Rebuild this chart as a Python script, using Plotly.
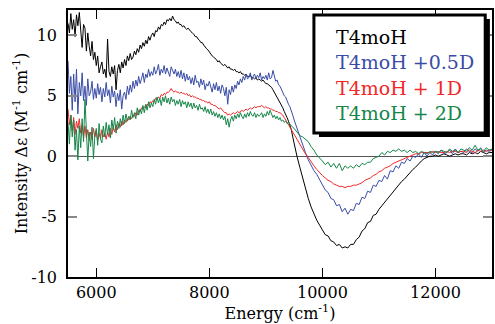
import plotly.graph_objects as go

# energy grid (cm^-1): 25 cm^-1 steps below 9500, 50 cm^-1 steps above
energy = list(range(5500, 9500, 25)) + list(range(9500, 13001, 50))

t4moh = [
    11.0, 10.2, 11.8, 10.5,  11.3, 9.9, 11.7, 10.8,  11.9, 10.1, 9.0, 10.9,
    10.6, 8.7, 10.2, 9.1,  8.3, 9.5, 8.0, 8.6,  7.5, 8.3, 6.9, 7.4,
    7.8, 6.8, 7.2, 6.5,  9.7, 7.0, 6.6, 7.4,  6.8, 7.5, 5.5, 7.1,
    7.6, 6.9, 7.8, 7.3,  8.0, 7.5, 8.3, 7.9,  8.5, 8.0, 8.2, 8.7,
    8.4, 8.9, 8.6, 9.2,  8.9, 9.4, 9.1, 9.6,  9.3, 9.9, 9.6, 10.0,
    10.2, 9.9, 10.4, 10.3,  10.7, 10.5, 10.9, 10.8,  11.1, 10.9, 11.3, 11.2,
    11.4, 11.2, 11.6, 11.3,  11.2, 11.0, 11.1, 10.9,  10.9, 10.7, 10.8, 10.6,
    10.5, 10.6, 10.4, 10.3,  10.2, 10.1, 9.9, 9.9,  9.7, 9.6, 9.4, 9.4,
    9.2, 9.0, 8.9, 8.8,  8.6, 8.5, 8.3, 8.2,  8.1, 8.0, 7.8, 7.9,
    7.7, 7.6, 7.5, 7.6,  7.4, 7.3, 7.4, 7.2,  7.2, 7.1, 7.2, 7.0,
    7.0, 6.9, 7.0, 6.8,  6.8, 6.7, 6.8, 6.6,  6.6, 6.7, 6.5, 6.5,
    6.4, 6.5, 6.3, 6.4,  6.3, 6.2, 6.3, 6.1,  6.0, 6.0, 5.9, 5.8,
    5.7, 5.5, 5.3, 5.1,  4.9, 4.7, 4.5, 4.2,  4.0, 3.7, 3.5, 3.2,
    2.9, 2.6, 2.2, 1.6,
    1.0, 0.0, -0.9, -1.8, -2.7, -3.5, -4.2, -4.8, -5.3, -5.7,
    -6.1, -6.5, -6.6, -7.0, -7.1, -7.4, -7.3, -7.6, -7.5, -7.6,
    -7.3, -7.3, -6.9, -6.7, -6.2, -6.0, -5.5, -5.4, -4.9, -4.8,
    -4.4, -4.1, -3.8, -3.5, -3.2, -2.9, -2.6, -2.4, -2.1, -1.9,
    -1.6, -1.4, -1.1, -0.9, -0.6, -0.4, -0.2, -0.1, 0.0, 0.0,
    0.1, 0.0, 0.1, 0.2, 0.1, 0.0, 0.1, 0.2, 0.1, 0.2,
    0.2, 0.1, 0.3, 0.2, 0.3, 0.2, 0.4, 0.3, 0.2, 0.3,
    0.3,
]

t4moh_05d = [
    7.9, 5.2, 6.6, 3.8,  6.8, 4.5, 7.2, 3.5,  6.1, 5.0, 6.9, 4.6,
    5.8, 4.2, 6.4, 5.0,  5.3, 6.2, 4.7, 5.6,  4.8, 6.0, 5.1, 5.7,
    4.5, 5.6, 4.9, 6.1,  5.0, 5.5, 4.4, 5.8,  4.9, 5.4, 4.1, 5.2,
    4.6, 5.5, 3.9, 5.0,  5.3, 4.7, 5.8, 5.1,  5.9, 5.3, 6.2, 5.6,
    6.3, 5.8, 6.6, 6.0,  6.4, 6.9, 6.1, 6.8,  6.5, 7.2, 6.6, 7.0,
    6.7, 7.4, 6.8, 7.1,  7.6, 6.7, 7.2, 6.9,  7.5, 6.8, 7.3, 7.0,
    6.6, 7.4, 7.0, 6.8,  7.2, 6.6, 7.0, 6.5,  7.1, 6.4, 6.9, 6.2,
    6.8, 6.3, 6.6, 6.0,  6.5, 5.9, 6.7, 6.1,  6.2, 5.7, 6.4, 5.9,
    6.3, 5.5, 6.0, 5.8,  6.2, 5.6, 5.3, 6.0,  5.5, 6.1, 5.4, 5.8,
    5.2, 5.9, 5.6, 5.0,  5.7, 4.3, 5.5, 5.1,  5.8, 5.3, 5.9, 5.6,
    6.2, 5.9, 6.4, 6.1,  6.6, 6.3, 6.8, 6.4,  6.5, 6.9, 6.3, 6.6,
    6.8, 6.4, 6.7, 6.5,  6.9, 6.3, 6.6, 6.4,  6.7, 6.3, 6.9, 6.4,
    6.5, 7.1, 6.6, 6.2,  6.3, 5.9, 5.8, 5.5,  5.3, 5.0, 4.9, 4.5,
    4.3, 4.1, 3.8, 3.4,
    3.0, 2.3, 1.6, 0.9, 0.3, -0.3, -0.8, -1.2, -1.5, -1.9,
    -2.3, -2.8, -3.0, -3.5, -3.6, -4.1, -4.0, -4.6, -4.3, -4.8,
    -4.4, -4.5, -3.9, -4.0, -3.4, -3.5, -2.9, -3.0, -2.4, -2.5,
    -2.0, -2.1, -1.6, -1.9, -1.2, -1.3, -0.8, -1.0, -0.5, -0.6,
    -0.2, -0.4, 0.0, -0.1, 0.2, -0.1, 0.3, 0.0, 0.3, 0.1,
    0.4, 0.2, 0.5, 0.2, 0.3, 0.5, 0.2, 0.6, 0.3, 0.4,
    0.3, 0.6, 0.4, 0.3, 0.6, 0.4, 0.7, 0.3, 0.5, 0.4,
    0.5,
]

t4moh_1d = [
    3.9, 2.6, 3.4, 2.1,  3.2, 1.8, 2.9, 2.3,  3.1, 1.9, 2.6, 1.6,
    2.5, 1.5, 2.2, 1.3,  2.0, 1.4, 2.3, 1.6,  2.1, 1.3, 1.9, 1.5,
    2.2, 1.6, 1.9, 1.4,  2.0, 1.6, 2.3, 1.8,  2.4, 2.0, 2.6, 2.2,
    2.7, 2.4, 2.9, 2.6,  3.0, 2.8, 3.1, 3.0,  3.3, 3.1, 3.4, 3.3,
    3.6, 3.4, 3.8, 3.7,  4.0, 3.9, 4.1, 4.0,  4.3, 4.2, 4.5, 4.4,
    4.6, 4.5, 4.8, 4.7,  4.9, 4.8, 5.1, 5.0,  5.2, 5.1, 5.3, 5.3,
    5.4, 5.6, 5.4, 5.3,  5.4, 5.3, 5.3, 5.2,  5.3, 5.2, 5.2, 5.1,
    5.2, 5.0, 5.1, 4.9,  5.0, 4.9, 4.9, 4.8,  4.8, 4.7, 4.7, 4.6,
    4.6, 4.5, 4.5, 4.4,  4.5, 4.3, 4.3, 4.2,  4.2, 4.1, 4.0, 3.9,
    4.0, 3.8, 3.7, 3.6,  3.6, 3.4, 3.5, 3.4,  3.5, 3.6, 3.5, 3.6,
    3.7, 3.6, 3.7, 3.8,  3.7, 3.8, 3.9, 3.8,  3.9, 4.0, 3.9, 4.0,
    4.1, 4.0, 4.1, 4.1,  4.1, 4.2, 4.1, 4.0,  4.1, 4.0, 4.0, 3.9,
    3.9, 3.8, 3.8, 3.7,  3.7, 3.6, 3.6, 3.5,  3.4, 3.2, 3.0, 2.8,
    2.5, 2.3, 2.1, 1.9,
    1.7, 1.3, 0.9, 0.6, 0.2, -0.1, -0.5, -0.8, -1.1, -1.4,
    -1.6, -1.8, -2.0, -2.1, -2.3, -2.4, -2.5, -2.5, -2.6, -2.5,
    -2.5, -2.4, -2.4, -2.3, -2.2, -2.0, -1.9, -1.8, -1.6, -1.5,
    -1.3, -1.2, -1.0, -0.9, -0.8, -0.6, -0.5, -0.4, -0.3, -0.2,
    -0.1, 0.0, 0.1, 0.2, 0.2, 0.3, 0.3, 0.3, 0.3, 0.4,
    0.3, 0.4, 0.3, 0.3, 0.4, 0.3, 0.4, 0.4, 0.3, 0.4,
    0.4, 0.3, 0.5, 0.4, 0.3, 0.5, 0.4, 0.5, 0.4, 0.5,
    0.5,
]

t4moh_2d = [
    2.8, 1.0, 3.4, 1.6,  3.0, 0.5, 2.2, -0.3,  2.5, 0.7, 3.1, 1.2,
    4.7, 1.5, -0.4, 2.0,  0.8, 2.4, -0.2, 1.7,  2.3, 0.9, 2.7, 1.4,
    1.1, 2.5, 1.6, 2.8,  1.8, 2.6, 1.5, 3.0,  2.2, 3.2, 1.9, 2.9,
    2.3, 3.1, 2.5, 3.4,  2.7, 3.5, 2.9, 3.3,  3.0, 3.8, 3.2, 3.6,
    3.1, 4.0, 3.4, 3.9,  3.5, 4.2, 3.6, 4.3,  3.8, 4.5, 4.0, 4.4,
    4.1, 4.7, 4.3, 4.9,  4.4, 4.8, 4.2, 4.9,  4.5, 5.0, 4.4, 4.8,
    4.3, 4.9, 4.5, 4.7,  4.2, 4.6, 4.3, 4.7,  4.1, 4.6, 4.3, 4.5,
    4.0, 4.5, 4.1, 4.4,  3.9, 4.4, 4.0, 4.2,  3.8, 4.3, 3.9, 4.0,
    3.7, 4.1, 3.6, 3.9,  3.5, 3.9, 3.4, 3.7,  3.3, 3.6, 3.2, 3.5,
    3.1, 3.4, 3.0, 3.3,  2.6, 3.1, 2.4, 3.0,  3.3, 2.9, 3.4, 3.1,
    3.5, 3.2, 3.6, 3.3,  3.1, 3.5, 3.2, 3.6,  3.3, 3.7, 3.4, 3.3,
    3.6, 3.2, 3.5, 3.3,  3.4, 3.6, 3.2, 3.5,  3.3, 3.7, 3.4, 3.8,
    3.5, 3.2, 3.4, 3.1,  3.3, 3.0, 3.2, 2.9,  3.0, 2.8, 2.9, 2.7,
    2.8, 2.6, 2.5, 2.4,
    2.3, 2.0, 1.7, 1.6, 1.4, 1.2, 0.8, 0.5, 0.1, -0.2,
    -0.4, -0.7, -0.5, -0.9, -0.6, -1.0, -0.6, -1.2, -0.8, -1.0,
    -0.8, -1.0, -0.7, -0.9, -0.6, -0.7, -0.5, -0.5, -0.2, -0.1,
    0.0, 0.3, 0.1, 0.4, 0.3, 0.5, 0.4, 0.6, 0.4, 0.5,
    0.3, 0.5, 0.3, 0.4, 0.2, 0.4, 0.3, 0.2, 0.4, 0.3,
    0.4, 0.3, 0.5, 0.4, 0.3, 0.6, 0.4, 0.5, 0.3, 0.6,
    0.5, 0.4, 0.7, 0.5, 0.9, 0.5, 0.6, 0.4, 0.7, 0.5,
    0.6,
]

names = ["T4moH", "T4moH +0.5D", "T4moH + 1D", "T4moH + 2D"]
colors = ["#000000", "#3a4ca6", "#f02828", "#16864a"]
series = [t4moh, t4moh_05d, t4moh_1d, t4moh_2d]

x_ticks = [6000, 8000, 10000, 12000]
y_ticks = [-10, -5, 0, 5, 10]

FONT = "DejaVu Serif"

fig = go.Figure()
for name, col, vals in zip(names, colors, series):
    fig.add_trace(go.Scatter(x=energy, y=vals, mode="lines", name=name,
                             line=dict(color=col, width=1), showlegend=False))

fig.update_layout(
    width=495, height=324,
    margin=dict(l=68, r=1, t=10, b=47),
    paper_bgcolor="white", plot_bgcolor="white",
    font=dict(family=FONT, size=16, color="black"),
)
fig.update_xaxes(
    range=[5500, 13000], tickvals=x_ticks, ticktext=[str(v) for v in x_ticks],
    ticks="inside", ticklen=9, tickcolor="black", tickwidth=1,
    showline=True, linecolor="black", linewidth=1.5, mirror="ticks",
    showgrid=False, zeroline=False,
    title=dict(text="Energy (cm<sup>-1</sup>)", standoff=2,
               font=dict(family=FONT, size=16)),
    tickfont=dict(family=FONT, size=16),
)
fig.update_yaxes(
    range=[-10, 12.1], tickvals=y_ticks, ticktext=[str(v) for v in y_ticks],
    ticks="inside", ticklen=9, tickcolor="#888888", tickwidth=1.5,
    showline=True, linecolor="black", linewidth=1.5, mirror="ticks",
    showgrid=False, zeroline=True, zerolinecolor="#555555", zerolinewidth=1,
    title=dict(text="Intensity \u0394\u03b5 (M<sup>-1</sup> cm<sup>-1</sup>)", standoff=0,
               font=dict(family=FONT, size=16)),
    tickfont=dict(family=FONT, size=16), ticklabelstandoff=6,
)

# legend box with shadow
fig.add_shape(type="rect", xref="paper", yref="paper",
              x0=0.592, x1=0.995, y0=0.524, y1=0.966,
              fillcolor="black", line=dict(width=0), layer="above")
fig.add_shape(type="rect", xref="paper", yref="paper",
              x0=0.580, x1=0.984, y0=0.539, y1=0.981,
              fillcolor="white", line=dict(color="black", width=3), layer="above")

leg_y = [0.899, 0.805, 0.708, 0.614]
for name, col, yy in zip(names, colors, leg_y):
    fig.add_annotation(xref="paper", yref="paper", x=0.627, y=yy,
                       text=name, showarrow=False, xanchor="left", yanchor="middle",
                       font=dict(family=FONT, size=19, color=col))

fig.write_html("out.html")
